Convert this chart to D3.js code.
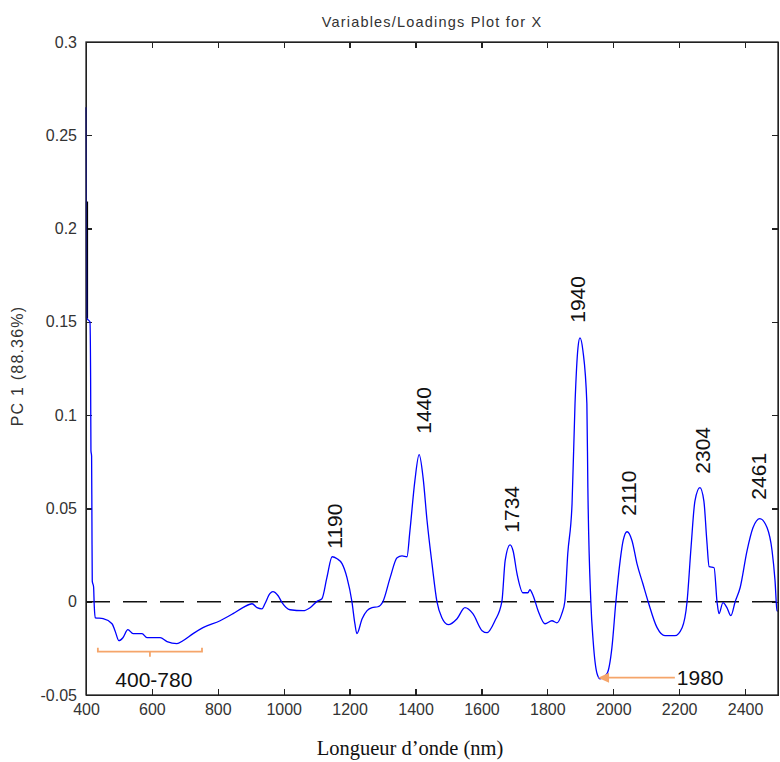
<html>
    <head>
        <style>
body {
  margin: 0;
  background: #fff;
  font: 15px "Liberation Sans", Arial, sans-serif;
}

.axis path,
.axis line {
  fill: none;
  stroke: #222;
  stroke-width: 1.3px;
  shape-rendering: crispEdges;
}

.axis text {
  fill: #333;
  font-size: 16px;
}

.peak {
  font-size: 21px;
  fill: #111;
}
        </style>
    </head>
<script src="https://d3js.org/d3.v7.min.js"></script>
<body>
  <div id='chart'></div>
<script>

// wavelength (nm) and PC1 loading
var wavelength = [400, 401, 402, 412, 414, 415, 417, 418, 419, 423, 425, 428, 452, 479, 488, 500,
  512, 527, 543, 570, 585, 625, 646, 676, 694, 725, 755, 807, 846, 876, 904, 919, 934, 943,
  958, 967, 983, 995, 1019, 1059, 1080, 1101, 1116, 1131, 1147, 1162, 1177, 1192, 1207, 1216,
  1222, 1238, 1253, 1268, 1286, 1301, 1323, 1344, 1359, 1374, 1383, 1398, 1411, 1423, 1435,
  1450, 1465, 1480, 1499, 1526, 1550, 1574, 1602, 1617, 1641, 1662, 1672, 1687, 1696, 1708,
  1726, 1741, 1747, 1757, 1772, 1793, 1814, 1829, 1844, 1853, 1862, 1875, 1884, 1893, 1899,
  1908, 1920, 1923, 1932, 1939, 1951, 1960, 1981, 1996, 2008, 2021, 2030, 2042, 2057, 2072,
  2090, 2106, 2133, 2157, 2187, 2209, 2224, 2236, 2248, 2263, 2275, 2284, 2291, 2306, 2315,
  2321, 2333, 2345, 2357, 2370, 2385, 2406, 2424, 2445, 2467, 2482, 2491, 2497, 2500];

var loading = [0.265, 0.214, 0.152, 0.150, 0.120, 0.081, 0.078, 0.043, 0.011, 0.008, -0.002, -0.0086, -0.0091, -0.0118, -0.0155, -0.0209,
  -0.0193, -0.0150, -0.0171, -0.0171, -0.0193, -0.0193, -0.0214, -0.0225, -0.0209, -0.0171, -0.0139, -0.0102, -0.0064, -0.0032, -0.0011, -0.0032, -0.0038, -0.0011,
  0.0043, 0.0054, 0.0032, -0.0005, -0.0043, -0.0048, -0.0032, 0.0002, 0.0016, 0.0129, 0.0241, 0.0230, 0.0204, 0.0129, 0.0000, -0.0118,
  -0.0171, -0.0091, -0.0048, -0.0032, -0.0027, 0.0000, 0.0129, 0.0236, 0.0246, 0.0241, 0.0380, 0.0648, 0.0788, 0.0664, 0.0434,
  0.0204, 0.0000, -0.0086, -0.0123, -0.0091, -0.0032, -0.0064, -0.0155, -0.0166, -0.0102, 0.0000, 0.0220, 0.0305, 0.0273, 0.0150,
  0.0048, 0.0048, 0.0064, 0.0032, -0.0048, -0.0118, -0.0102, -0.0113, -0.0064, 0.0000, 0.0257, 0.0525, 0.1061, 0.1361, 0.1414,
  0.1345, 0.1061, 0.0611, 0.0000, -0.0209, -0.0386, -0.0413, -0.0386, -0.0246, 0.0000, 0.0220, 0.0327, 0.0375, 0.0327, 0.0204,
  0.0096, 0.0000, -0.0139, -0.0182, -0.0182, -0.0139, 0.0000, 0.0289, 0.0541, 0.0611, 0.0541, 0.0327, 0.0188, 0.0182, 0.0000,
  -0.0064, -0.0005, -0.0032, -0.0075, 0.0000, 0.0075, 0.0273, 0.0396, 0.0445, 0.0396, 0.0273, 0.0113, -0.0048, -0.0050];

// short black segment at the first wavelength
var blackX = [400, 400];
var blackY = [0.2145, 0.1517];

var xTicks = [400, 600, 800, 1000, 1200, 1400, 1600, 1800, 2000, 2200, 2400];
var yTicks = [-0.05, 0, 0.05, 0.1, 0.15, 0.2, 0.25, 0.3];

// peak labels and where they sit (data units)
var peakLabels = ["1190", "1440", "1734", "1940", "2110", "2304", "2461"];
var peakLabelX = [1177, 1447, 1714, 1914, 2069, 2294, 2464];
var peakLabelY = [0.0284, 0.0900, 0.0370, 0.1495, 0.0461, 0.0686, 0.0547];

var margin = {top: 42, right: 2, bottom: 67, left: 86},
    width = 780 - margin.left - margin.right,
    height = 762 - margin.top - margin.bottom;

var x = d3.scaleLinear().domain([400, 2500]).range([0, width]);
var y = d3.scaleLinear().domain([-0.05, 0.3]).range([height, 0]);

var svg = d3.select("#chart").append("svg")
    .attr("width", 780)
    .attr("height", 762)
  .append("g")
    .attr("transform", "translate(" + margin.left + "," + margin.top + ")");

var fmt = function(d) { return d === 0 ? "0" : String(d); };

// axes, ticks pointing inwards on all four sides
svg.append("g")
    .attr("class", "x axis")
    .attr("transform", "translate(0," + height + ")")
    .call(d3.axisBottom(x).tickValues(xTicks).tickSizeInner(-6).tickSizeOuter(0).tickPadding(9).tickFormat(fmt));

svg.append("g")
    .attr("class", "x axis")
    .call(d3.axisTop(x).tickValues(xTicks).tickSizeInner(-6).tickSizeOuter(0).tickFormat(""));

svg.append("g")
    .attr("class", "y axis")
    .call(d3.axisLeft(y).tickValues(yTicks).tickSizeInner(-6).tickSizeOuter(0).tickPadding(9).tickFormat(fmt));

svg.append("g")
    .attr("class", "y axis")
    .attr("transform", "translate(" + width + ",0)")
    .call(d3.axisRight(y).tickValues(yTicks).tickSizeInner(-6).tickSizeOuter(0).tickFormat(""));

// zero line
svg.append("line")
    .attr("x1", x(400))
    .attr("x2", x(2500))
    .attr("y1", y(0))
    .attr("y2", y(0))
    .style("stroke", "#111")
    .style("stroke-width", 1.5)
    .style("stroke-dasharray", "24,13");

var points = wavelength.map(function(w, i) { return [w, loading[i]]; });

var line = d3.line()
    .x(function(d) { return x(d[0]); })
    .y(function(d) { return y(d[1]); })
    .curve(d3.curveMonotoneX);

svg.append("path")
    .datum(blackX.map(function(w, i) { return [w, blackY[i]]; }))
    .attr("d", d3.line().x(function(d) { return x(d[0]) + 1; }).y(function(d) { return y(d[1]); }))
    .style("fill", "none")
    .style("stroke", "#000")
    .style("stroke-width", 2.2);

svg.append("path")
    .datum(points)
    .attr("d", line)
    .style("fill", "none")
    .style("stroke", "#0000ff")
    .style("stroke-width", 1.3);

// frame on top
svg.append("rect")
    .attr("width", width)
    .attr("height", height)
    .style("fill", "none")
    .style("stroke", "#222")
    .style("stroke-width", 1.3);

// rotated peak labels
svg.selectAll(".peak")
    .data(peakLabels)
    .enter()
    .append("text")
      .attr("class", "peak")
      .attr("transform", function(d, i) {
        return "translate(" + x(peakLabelX[i]) + "," + y(peakLabelY[i]) + ") rotate(-90)";
      })
      .text(function(d) { return d; });

// orange bracket under the visible range
var orange = "#f5a56a";
var bx0 = x(436), bx1 = x(752), bxm = x(594), by = y(-0.0268);
svg.append("path")
    .attr("d", "M" + bx0 + "," + (by - 4) + "L" + bx0 + "," + by + "L" + bx1 + "," + by + "L" + bx1 + "," + (by - 4) +
               "M" + bxm + "," + by + "L" + bxm + "," + (by + 5))
    .style("fill", "none")
    .style("stroke", orange)
    .style("stroke-width", 1.8);

svg.append("text")
    .attr("x", x(606))
    .attr("y", y(-0.0456))
    .attr("text-anchor", "middle")
    .style("font-size", "21px")
    .style("fill", "#111")
    .text("400-780");

// arrow to the 1980 minimum
var ay = y(-0.0407);
svg.append("line")
    .attr("x1", x(2187))
    .attr("x2", x(1954) + 9)
    .attr("y1", ay)
    .attr("y2", ay)
    .style("stroke", orange)
    .style("stroke-width", 1.8);

svg.append("path")
    .attr("d", "M" + x(1954) + "," + ay + "L" + (x(1954) + 11) + "," + (ay - 5) + "L" + (x(1954) + 11) + "," + (ay + 5) + "Z")
    .style("fill", orange);

svg.append("text")
    .attr("x", x(2193))
    .attr("y", y(-0.0445))
    .style("font-size", "21px")
    .style("fill", "#111")
    .text("1980");

// titles
svg.append("text")
    .attr("x", width / 2)
    .attr("y", -15)
    .attr("text-anchor", "middle")
    .style("font-size", "14.5px")
    .style("letter-spacing", "1.2px")
    .style("fill", "#333")
    .text("Variables/Loadings Plot for X");

svg.append("text")
    .attr("x", 410 - margin.left)
    .attr("y", height + 60)
    .attr("text-anchor", "middle")
    .style("font-family", "'Liberation Serif', 'Times New Roman', serif")
    .style("font-size", "20.5px")
    .style("fill", "#111")
    .text("Longueur d\u2019onde (nm)");

svg.append("text")
    .attr("transform", "translate(" + (23 - margin.left) + "," + (366 - margin.top) + ") rotate(-90)")
    .attr("text-anchor", "middle")
    .style("font-size", "16px")
    .style("letter-spacing", "1.2px")
    .style("fill", "#333")
    .text("PC 1 (88.36%)");
    </script>

</body>
</html>
